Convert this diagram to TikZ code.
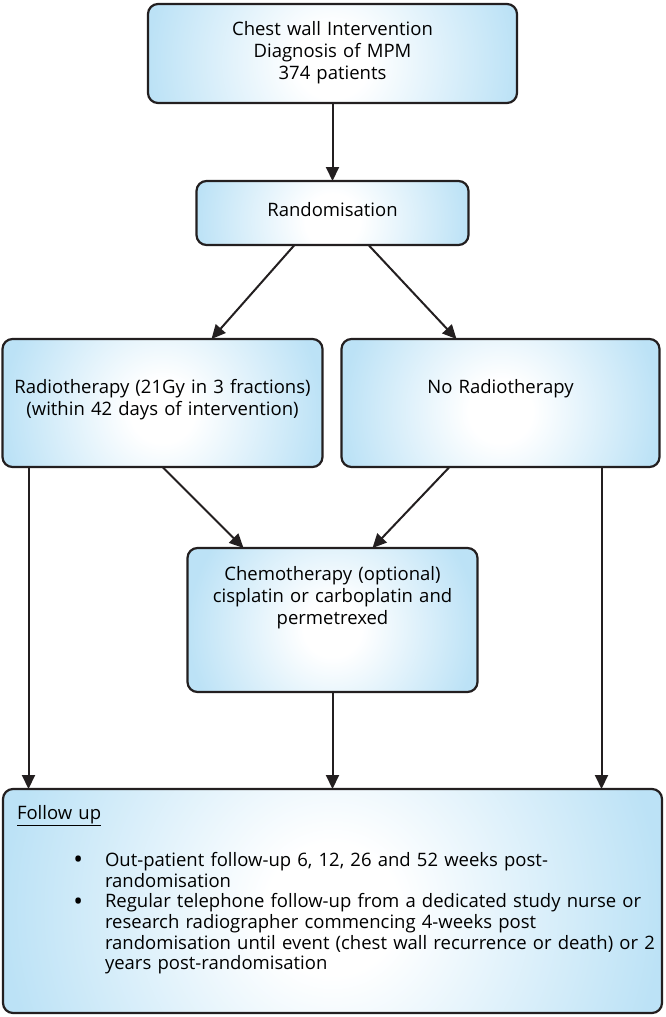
\documentclass[tikz,border=0pt]{standalone}
\usepackage{fontspec}
\setmainfont{Open Sans}
\usetikzlibrary{positioning,calc,arrows.meta}

\definecolor{boxblue}{RGB}{188,226,246}
\definecolor{inkline}{RGB}{35,31,32}
\pgfdeclareradialshading{boxshade}{\pgfpoint{0bp}{0bp}}{color(0bp)=(white); color(5bp)=(white); color(25bp)=(boxblue); color(50bp)=(boxblue)}

\tikzstyle{bx} = [rectangle, rounded corners=10pt, draw=inkline, line width=2.2pt, fill=boxblue, inner sep=0pt, outer sep=0pt, align=center, font=\fontsize{18.5}{22}\selectfont, path picture={\shade[shading=boxshade] let \p1=(path picture bounding box.south west), \p2=(path picture bounding box.north east), \n1={(\x2-\x1)/2} in ($(\p1)!.5!(\p2)+(0,-8pt)$) circle[radius={\n1*1pt}];}]
\tikzstyle{fb} = [bx, align=left, font=\fontsize{18.5}{20.6}\selectfont]
\tikzstyle{arr} = [-{Triangle[length=14pt,width=13pt]}, line width=2pt, draw=inkline]
\newcommand{\fubullet}{\raisebox{-2.2pt}{\scalebox{1.4}{\textbullet}}}

\begin{document}
\begin{tikzpicture}
        \useasboundingbox (0,0) rectangle (666pt,-1017pt);
        \node[bx, text width=369pt, text height=31pt, text depth=68pt] (top) at (332.5pt,-53.5pt) {Chest wall Intervention\\Diagnosis of MPM\\374 patients};
        \node[bx, text width=272pt, text height=35pt, text depth=29pt] (rand) [below=78pt of top] {Randomisation};
        \node[bx, text width=320pt, text height=54pt, text depth=74pt] (radio) [below=94pt of rand, xshift=-170pt] {Radiotherapy (21Gy in 3 fractions)\\(within 42 days of intervention)};
        \node[bx, text width=318pt, text height=54pt, text depth=74pt] (norad) [right=19pt of radio] {No Radiotherapy};
        \node[bx, text width=290pt, text height=32pt, text depth=112pt] (chemo) [below=303pt of rand] {Chemotherapy (optional)\\cisplatin or carboplatin and\\permetrexed};
        \node[fb, text width=659pt, text height=30pt, text depth=194pt] (follow) [below=97pt of chemo] {\hspace*{14pt}\underline{Follow up}\par\vspace{27pt}%
            \begin{list}{\fubullet}{\setlength{\leftmargin}{102pt}\setlength{\labelsep}{22pt}\setlength{\labelwidth}{20pt}\setlength{\itemsep}{0pt}\setlength{\parsep}{0pt}\setlength{\topsep}{0pt}\setlength{\partopsep}{0pt}}
            \item Out-patient follow-up 6, 12, 26 and 52 weeks post-\\randomisation
            \item Regular telephone follow-up from a dedicated study nurse or\\research radiographer commencing 4-weeks post\\randomisation until event (chest wall recurrence or death) or 2\\years post-randomisation
            \end{list}};
        \draw[arr] (top) -- (rand);
        \draw[arr] ([xshift=-38pt]rand.south) -- ([xshift=49pt]radio.north);
        \draw[arr] ([xshift=36pt]rand.south) -- ([xshift=-44pt]norad.north);
        \draw[arr] (radio.south) -- ([xshift=-89pt]chemo.north);
        \draw[arr] ([xshift=-51pt]norad.south) -- ([xshift=40pt]chemo.north);
        \draw[arr] ([xshift=-134pt]radio.south) -- ([xshift=-134pt]radio.south |- follow.north);
        \draw[arr] ([xshift=101pt]norad.south) -- ([xshift=101pt]norad.south |- follow.north);
        \draw[arr] (chemo) -- (chemo |- follow.north);
    \end{tikzpicture}
\end{document}
